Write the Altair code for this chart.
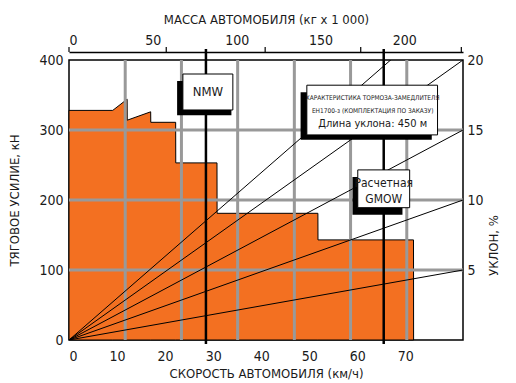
import altair as alt
import pandas as pd

# Tractive-effort envelope: vehicle speed (km/h) against rimpull (kN)
env_speed = [0, 9.1, 12.1, 12.12, 17.0, 17.02, 22.2, 22.22, 30.8, 30.82, 51.8, 51.82, 71.7, 71.72]
env_force = [328, 328, 344, 314, 326, 311, 311, 253, 253, 181, 181, 143, 143, 0]

# Grade lines (% grade reached at the right edge of the plot)
grade_levels = [5, 10, 15, 20, 24.5]

# Axis ticks
speed_ticks = [0, 10, 20, 30, 40, 50, 60, 70]
force_ticks = [0, 100, 200, 300, 400]
grade_ticks = [5, 10, 15, 20]
mass_labels = [0, 50, 100, 150, 200]
mass_tick_marks = [0, 58, 117, 174, 234]

# Grid
grid_speed = [11.7, 23.4, 35.1, 46.9, 58.6, 70.3]
grid_force = [100, 200, 300]

# Reference weights, placed on the speed axis
nmw_speed = 28.5
gmow_speed = 65.5

# Callout boxes: [x0, x1, y0, y1] in (km/h, kN)
nmw_box = [23.7, 34.1, 328.6, 380]
nmw_shadow = [22.5, 33.8, 321, 370]
brake_box = [49.5, 76.7, 293, 364]
brake_shadow = [48.2, 75.5, 286, 354]
gmow_box = [60.1, 70.9, 189, 243]
gmow_shadow = [59.0, 69.4, 179, 233]

speed_max = 82
mass_max = 235

FONT = "DejaVu Sans Condensed, Roboto, sans-serif"
ORANGE = "#F37021"
GRID = "#999999"
INK = "#1a1a1a"

xs = alt.Scale(domain=[0, speed_max], nice=False, zero=False)
ys = alt.Scale(domain=[0, 400], nice=False, zero=False)
gs = alt.Scale(domain=[0, 20], nice=False, zero=False)
ms = alt.Scale(domain=[0, mass_max], nice=False, zero=False)

env = pd.DataFrame({"speed": env_speed, "force": env_force})

area = alt.Chart(env).mark_area(
    color=ORANGE, stroke="black", strokeWidth=1, interpolate="linear"
).encode(
    x=alt.X("speed:Q", scale=xs, axis=alt.Axis(
        values=speed_ticks, ticks=False, domain=False, grid=False,
        labelPadding=9, labelFontSize=14, labelFont=FONT,
        title="СКОРОСТЬ АВТОМОБИЛЯ (км/ч)", titleFont=FONT, titleFontSize=13,
        titleFontWeight="normal", titlePadding=4)),
    y=alt.Y("force:Q", scale=ys, axis=alt.Axis(
        values=force_ticks, ticks=False, domain=False, grid=False,
        labelPadding=6, labelFontSize=14, labelFont=FONT,
        title="ТЯГОВОЕ УСИЛИЕ, кН", titleFont=FONT, titleFontSize=13,
        titleFontWeight="normal", titlePadding=17)),
)

hgrid = alt.Chart(pd.DataFrame({"force": grid_force})).mark_rule(
    color=GRID, strokeWidth=3
).encode(y=alt.Y("force:Q", scale=ys, axis=None))

vgrid = alt.Chart(pd.DataFrame({"speed": grid_speed})).mark_rule(
    color=GRID, strokeWidth=3
).encode(x=alt.X("speed:Q", scale=xs, axis=None))

grade_rows = []
for g in grade_levels:
    grade_rows.append({"grade": g, "speed": 0, "pct": 0})
    grade_rows.append({"grade": g, "speed": speed_max, "pct": g})
grades = alt.Chart(pd.DataFrame(grade_rows)).mark_line(
    color="black", strokeWidth=1, clip=True
).encode(
    x=alt.X("speed:Q", scale=xs, axis=None),
    y=alt.Y("pct:Q", scale=gs, axis=alt.Axis(
        orient="right", values=grade_ticks, ticks=False, domain=False, grid=False,
        labelPadding=4, labelFontSize=14, labelFont=FONT,
        title="УКЛОН, %", titleFont=FONT, titleFontSize=13, titleFontWeight="normal",
        titleAngle=270, titlePadding=17, titleY=185)),
    detail="grade:N",
)

mass_axis = alt.Chart(pd.DataFrame({"mass": mass_tick_marks})).mark_rule(
    color="black", strokeWidth=1.2
).encode(
    x=alt.X("mass:Q", scale=ms, axis=alt.Axis(
        orient="top", values=mass_labels, ticks=False, domain=True,
        domainColor="black", domainWidth=1.5, offset=8, grid=False,
        labelPadding=5, labelFontSize=14, labelFont=FONT,
        title="МАССА АВТОМОБИЛЯ (кг x 1 000)", titleFont=FONT, titleFontSize=13,
        titleFontWeight="normal", titlePadding=7)),
    y=alt.value(-13), y2=alt.value(-8),
)

weights = alt.Chart(pd.DataFrame({"speed": [nmw_speed, gmow_speed]})).mark_rule(
    color="black", strokeWidth=2.5
).encode(
    x=alt.X("speed:Q", scale=xs, axis=None),
    y=alt.value(-11), y2=alt.value(284),
)


def box_df(boxes):
    return pd.DataFrame([{"x0": b[0], "x1": b[1], "y0": b[2], "y1": b[3]} for b in boxes])


def rects(boxes, fill, stroke=None):
    kw = {"fill": fill}
    if stroke:
        kw.update(stroke=stroke, strokeWidth=1)
    return alt.Chart(box_df(boxes)).mark_rect(**kw).encode(
        x=alt.X("x0:Q", scale=xs, axis=None), x2="x1:Q",
        y=alt.Y("y0:Q", scale=ys, axis=None), y2="y1:Q",
    )


shadows = rects([nmw_shadow, brake_shadow, gmow_shadow], "black")
boxes = rects([nmw_box, brake_box, gmow_box], "white", "black")

labels = pd.DataFrame([
    {"speed": 28.9, "force": 354, "text": "NMW", "size": 13},
    {"speed": 63.2, "force": 346, "text": "ХАРАКТЕРИСТИКА ТОРМОЗА-ЗАМЕДЛИТЕЛЯ", "size": 6.5},
    {"speed": 63.2, "force": 327, "text": "EH1700-з (КОМПЛЕКТАЦИЯ ПО ЗАКАЗУ)", "size": 6.5},
    {"speed": 63.2, "force": 309, "text": "Длина уклона: 450 м", "size": 11},
    {"speed": 65.5, "force": 224, "text": "Расчетная", "size": 12},
    {"speed": 65.5, "force": 201, "text": "GMOW", "size": 12},
])
texts = alt.Chart(labels).mark_text(
    font=FONT, color=INK, baseline="middle", align="center"
).encode(
    x=alt.X("speed:Q", scale=xs, axis=None),
    y=alt.Y("force:Q", scale=ys, axis=None),
    text="text:N",
    size=alt.Size("size:Q", scale=None, legend=None),
)

chart = alt.layer(
    area, hgrid, vgrid, grades, mass_axis, weights, shadows, boxes, texts
).resolve_scale(
    x="independent", y="independent"
).properties(
    width=394, height=280,
    autosize=alt.AutoSizeParams(type="none"),
    padding={"left": 69, "top": 60, "right": 53, "bottom": 43},
).configure_view(
    stroke="black", strokeWidth=1.5
).configure_axis(
    labelColor=INK, titleColor=INK
)

chart.save("out.html", embed_options={"renderer": "svg", "actions": False})
